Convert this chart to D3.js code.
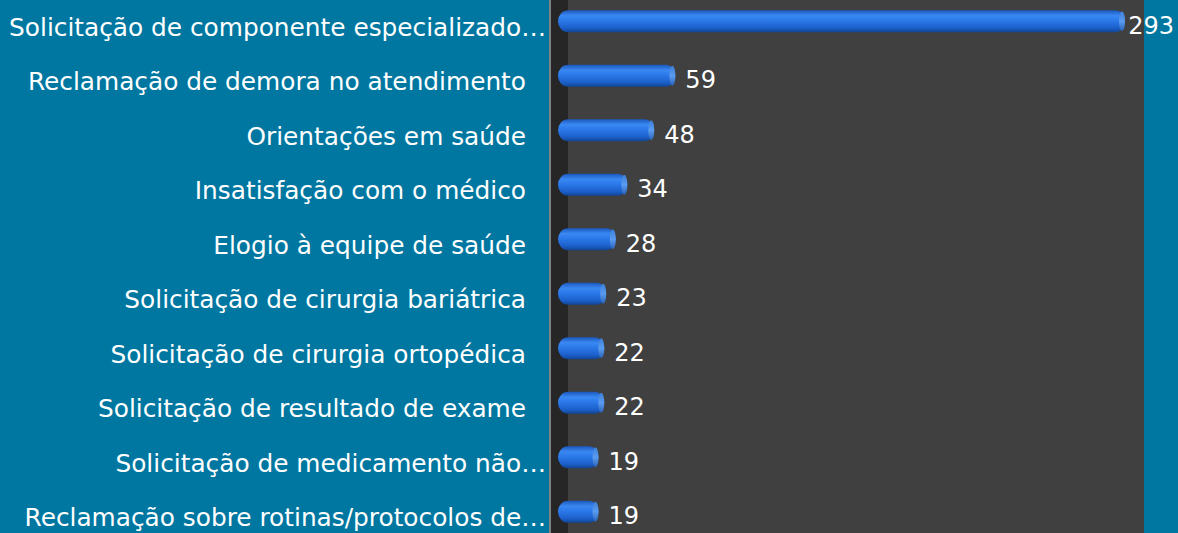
<!DOCTYPE html>
<html lang="pt">
<head>
<meta charset="UTF-8">
<title>Manifestações</title>
<script src="https://cdn.jsdelivr.net/npm/d3@7"></script>
<style>
  body { margin: 0; background: #0077a1; }
  svg text { font-family: "DejaVu Sans", sans-serif; fill: #fff; }
</style>
</head>
<body>
<script>
var categories = [
  "Solicitação de componente especializado…",
  "Reclamação de demora no atendimento",
  "Orientações em saúde",
  "Insatisfação com o médico",
  "Elogio à equipe de saúde",
  "Solicitação de cirurgia bariátrica",
  "Solicitação de cirurgia ortopédica",
  "Solicitação de resultado de exame",
  "Solicitação de medicamento não…",
  "Reclamação sobre rotinas/protocolos de…"
];
var values = [293, 59, 48, 34, 28, 23, 22, 22, 19, 19];

var width = 1178, height = 533;
var plotLeft = 551, plotRight = 1144;

var svg = d3.select("body").append("svg").attr("width", width).attr("height", height);

var defs = svg.append("defs");
var grad = defs.append("linearGradient").attr("id", "barGrad")
  .attr("x1", 0).attr("y1", 0).attr("x2", 0).attr("y2", 1);
grad.append("stop").attr("offset", "0%").attr("stop-color", "#1a58bd");
grad.append("stop").attr("offset", "25%").attr("stop-color", "#3a88f2");
grad.append("stop").attr("offset", "45%").attr("stop-color", "#2c7aeb");
grad.append("stop").attr("offset", "80%").attr("stop-color", "#1c60cb");
grad.append("stop").attr("offset", "100%").attr("stop-color", "#114594");
var capGrad = defs.append("linearGradient").attr("id", "capGrad")
  .attr("x1", 0).attr("y1", 0).attr("x2", 0).attr("y2", 1);
capGrad.append("stop").attr("offset", "0%").attr("stop-color", "#3d7fd8");
capGrad.append("stop").attr("offset", "50%").attr("stop-color", "#5a9cf0");
capGrad.append("stop").attr("offset", "100%").attr("stop-color", "#2a62b8");

var x = d3.scaleLinear().domain([0, 293]).range([562, 1125]);
var y = d3.scaleBand().domain(categories).range([-6, 539]);

// plot area
svg.append("rect").attr("x", plotLeft).attr("y", 0)
  .attr("width", plotRight - plotLeft).attr("height", height).attr("fill", "#404040");
svg.append("rect").attr("x", plotLeft).attr("y", 0)
  .attr("width", 17).attr("height", height).attr("fill", "#262626");
svg.append("line").attr("x1", plotLeft - 1).attr("x2", plotLeft - 1)
  .attr("y1", 0).attr("y2", height).attr("stroke", "#808080").attr("stroke-width", 2);

var barH = 22;
var bars = svg.append("g").selectAll("g").data(values).enter().append("g");

bars.append("rect")
  .attr("x", x(0) - 4)
  .attr("y", function(d, i) { return y(categories[i]) + y.bandwidth() / 2 - barH / 2; })
  .attr("width", function(d) { return x(d) - x(0) + 4; })
  .attr("height", barH)
  .attr("rx", 10).attr("ry", 11)
  .attr("fill", "url(#barGrad)");

bars.append("ellipse")
  .attr("cx", function(d) { return x(d) - 3; })
  .attr("cy", function(d, i) { return y(categories[i]) + y.bandwidth() / 2; })
  .attr("rx", 3).attr("ry", barH / 2 - 1)
  .attr("fill", "url(#capGrad)");

// value labels, kept inside the picture
svg.append("g").selectAll("text").data(values).enter().append("text")
  .attr("y", function(d, i) { return y(categories[i]) + y.bandwidth() / 2 + 4; })
  .attr("dy", "0.35em")
  .attr("font-size", 24)
  .text(function(d) { return d; })
  .attr("x", function(d) {
    var w = this.getComputedTextLength();
    return Math.min(x(d) + 10, width - 4 - w);
  });

// category labels
svg.append("g").selectAll("text").data(categories).enter().append("text")
  .attr("x", function(d) { return d.slice(-1) === "…" ? 546 : 526; })
  .attr("y", function(d) { return y(d) + y.bandwidth() / 2 + 6; })
  .attr("dy", "0.35em")
  .attr("text-anchor", "end")
  .attr("font-size", 24.8)
  .text(function(d) { return d; });
</script>
</body>
</html>
